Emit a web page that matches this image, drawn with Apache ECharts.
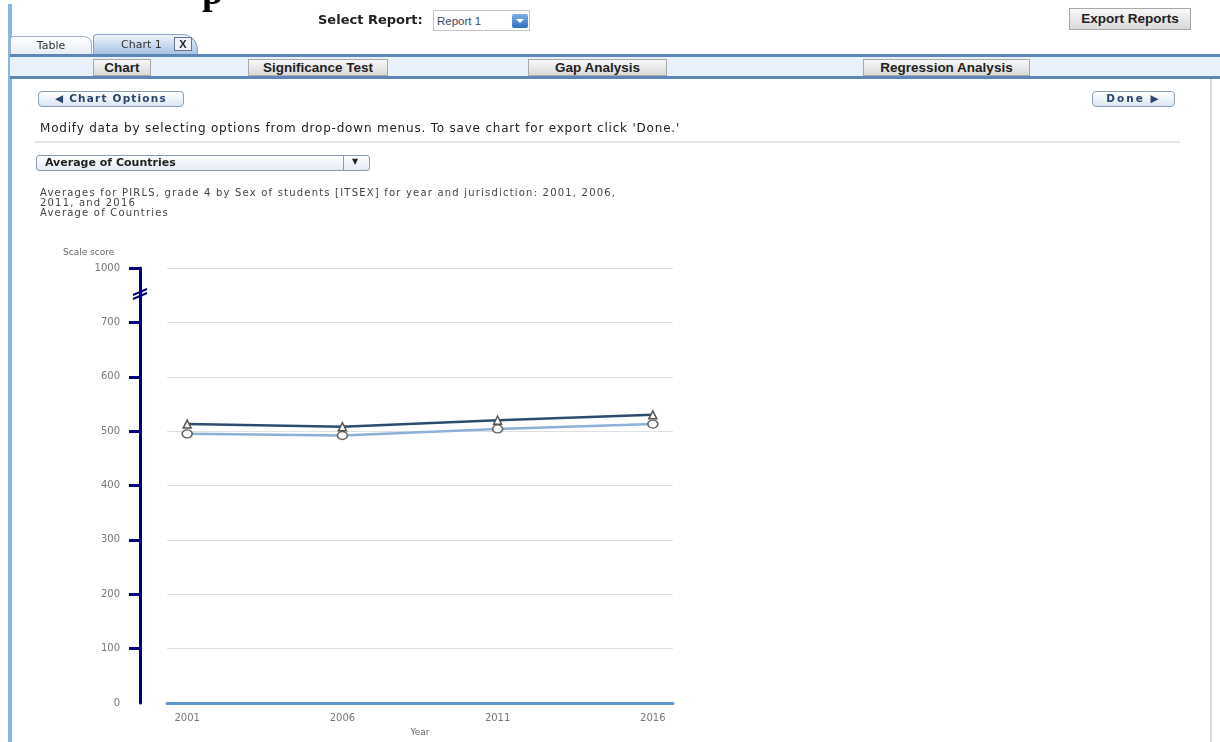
<!DOCTYPE html>
<html>
<head>
<meta charset="utf-8">
<script src="https://cdn.jsdelivr.net/npm/echarts@6/dist/echarts.min.js"></script>
<style>
  html, body { margin:0; padding:0; }
  body { width:1220px; height:742px; overflow:hidden; background:#fff; position:relative;
         font-family:"DejaVu Sans", Verdana, sans-serif; color:#222; }
  .abs { position:absolute; box-sizing:border-box; }
  #chart { position:absolute; left:0; top:0; width:1220px; height:742px; }
  .btn { background:linear-gradient(#f8f8f8,#d9d9d9); border:1px solid #a8a8a8;
         font:bold 13.5px "Liberation Sans", Arial, sans-serif; text-align:center; color:#222; white-space:nowrap; }
  .rbtn { border:1px solid #8a9fb8; border-radius:4px; background:linear-gradient(#ffffff,#dbe6f2);
          font:bold 10.5px "DejaVu Sans", Verdana, sans-serif; letter-spacing:1.2px; color:#2b4670; text-align:center; line-height:13px; white-space:nowrap; }
</style>
</head>
<body>
<div id="chart"></div>

<div class="abs" style="left:8px;top:4px;width:4px;height:738px;background:#86b6e6;"></div>
<div class="abs" style="left:202px;top:-28px;font:bold 38px 'Liberation Serif','Times New Roman',serif;line-height:38px;color:#000;">p</div>

<div class="abs" style="left:318px;top:12px;font:bold 13px 'DejaVu Sans',Verdana,sans-serif;white-space:nowrap;">Select Report:</div>
<div class="abs" style="left:433px;top:10px;width:97px;height:21px;border:1px solid #c4c4c4;background:#fff;"></div>
<div class="abs" style="left:437px;top:15px;font:11.5px 'Liberation Sans',Arial,sans-serif;color:#3a4a66;">Report 1</div>
<div class="abs" style="left:512px;top:14px;width:16px;height:14px;background:linear-gradient(#7fb0e6,#2f6fc0);border-radius:2px;"></div>
<div class="abs" style="left:516px;top:19px;width:0;height:0;border-left:4px solid transparent;border-right:4px solid transparent;border-top:4px solid #fff;"></div>

<div class="abs btn" style="left:1069px;top:8px;width:122px;height:22px;line-height:20px;">Export Reports</div>

<div class="abs" style="left:10px;top:36px;width:82px;height:18px;border:1px solid #a6b6c6;border-bottom:none;border-radius:4px 8px 0 0;background:linear-gradient(#ffffff,#e6edf5);font-size:11px;line-height:17px;text-align:center;color:#333;">Table</div>
<div class="abs" style="left:93px;top:34px;width:105px;height:20px;border:1px solid #8aa4c4;border-bottom:none;border-radius:4px 16px 0 0;background:linear-gradient(#eef4fa,#a6c2e4);"></div>
<div class="abs" style="left:121px;top:38px;font-size:11px;color:#333;white-space:nowrap;">Chart 1</div>
<div class="abs" style="left:174px;top:37px;width:18px;height:14px;border:1px solid #6a7488;background:#eef2f8;font:bold 11px 'Liberation Sans',Arial,sans-serif;line-height:12px;text-align:center;color:#223;">X</div>

<div class="abs" style="left:10px;top:54px;width:1210px;height:3px;background:#5d87b6;"></div>
<div class="abs" style="left:10px;top:57px;width:1210px;height:19px;background:#e8f1fb;"></div>
<div class="abs" style="left:10px;top:76px;width:1210px;height:3px;background:#5d87b6;"></div>

<div class="abs btn" style="left:93px;top:59px;width:58px;height:17px;line-height:15px;">Chart</div>
<div class="abs btn" style="left:248px;top:59px;width:140px;height:17px;line-height:15px;">Significance Test</div>
<div class="abs btn" style="left:528px;top:59px;width:139px;height:17px;line-height:15px;">Gap Analysis</div>
<div class="abs btn" style="left:863px;top:59px;width:167px;height:17px;line-height:15px;">Regression Analysis</div>

<div class="abs" style="left:1210px;top:79px;width:2px;height:663px;background:#cddcd8;"></div>

<div class="abs rbtn" style="left:38px;top:91px;width:146px;height:16px;">&#9664; Chart Options</div>
<div class="abs rbtn" style="left:1092px;top:91px;width:83px;height:16px;letter-spacing:2px;">Done &#9654;</div>

<div class="abs" style="left:40px;top:121px;font-size:12px;letter-spacing:0.8px;white-space:nowrap;color:#222;">Modify data by selecting options from drop-down menus. To save chart for export click 'Done.'</div>
<div class="abs" style="left:35px;top:141px;width:1145px;height:2px;background:#e6e6e6;"></div>

<div class="abs" style="left:36px;top:155px;width:334px;height:16px;border:1px solid #8a9cb0;border-radius:3px;background:linear-gradient(#ffffff,#e2ebf5);"></div>
<div class="abs" style="left:45px;top:156px;font:bold 11px 'DejaVu Sans',Verdana,sans-serif;color:#222;white-space:nowrap;">Average of Countries</div>
<div class="abs" style="left:343px;top:156px;width:1px;height:14px;background:#8a9cb0;"></div>
<div class="abs" style="left:352px;top:157px;font-size:8px;color:#222;">&#9660;</div>

<div class="abs" style="left:40px;top:188px;font-size:10px;line-height:10px;letter-spacing:1.2px;color:#444;white-space:nowrap;">Averages for PIRLS, grade 4 by Sex of students [ITSEX] for year and jurisdiction: 2001, 2006,<br>2011, and 2016<br>Average of Countries</div>

<script>
// ---- data ----
const years = [2001, 2006, 2011, 2016];
const femaleScores = [513, 508, 520, 530];   // triangles (upper line)
const maleScores = [495, 492, 504, 513];     // circles (lower line)
// y-axis: scale broken between 700 and 1000; the top tick position shows "1000"
const yTickPositions = [0, 100, 200, 300, 400, 500, 600, 700, 800];
const yTickLabels = ['0', '100', '200', '300', '400', '500', '600', '700', '1000'];
const xTickLabels = ['2001', '2006', '2011', '2016'];

const chart = echarts.init(document.getElementById('chart'), null, { renderer: 'canvas' });

const option = {
  animation: false,
  grid: { left: 167, right: 547, top: 268, bottom: 37 },
  xAxis: {
    type: 'value',
    min: 2000.35,
    max: 2016.65,
    name: 'Year',
    nameLocation: 'middle',
    nameGap: 25,
    nameTextStyle: { color: '#666', fontSize: 9, fontFamily: 'DejaVu Sans' },
    axisLine: { show: true, onZero: false, lineStyle: { color: '#5f96cd', width: 3 } },
    axisTick: { show: false },
    splitLine: { show: false },
    axisLabel: {
      customValues: years,
      formatter: v => xTickLabels[years.indexOf(Math.round(v))] || '',
      color: '#777', fontSize: 10, fontFamily: 'DejaVu Sans', margin: 10
    }
  },
  yAxis: {
    type: 'value',
    min: 0,
    max: 800,
    interval: 100,
    offset: 27,
    axisLine: { show: true, onZero: false, lineStyle: { color: '#00007a', width: 3 } },
    axisTick: { show: true, length: 11, customValues: yTickPositions.slice(1),
                lineStyle: { color: '#00007a', width: 3 } },
    axisLabel: {
      formatter: v => yTickLabels[yTickPositions.indexOf(Math.round(v))] || '',
      color: '#777', fontSize: 10, fontFamily: 'DejaVu Sans', margin: 20
    },
    splitLine: { show: true, lineStyle: { color: '#e0e0e0', width: 1 } }
  },
  series: [
    {
      name: 'Female',
      type: 'line',
      data: years.map((y, i) => [y, femaleScores[i]]),
      symbol: 'triangle',
      symbolSize: 8,
      showAllSymbol: true,
      lineStyle: { color: '#2c4c6f', width: 2.5 },
      itemStyle: { color: '#ffffff', borderColor: '#555', borderWidth: 1.5 },
      z: 3
    },
    {
      name: 'Male',
      type: 'line',
      data: years.map((y, i) => [y, maleScores[i]]),
      symbol: 'circle',
      symbolSize: [10, 8],
      showAllSymbol: true,
      lineStyle: { color: '#8db2da', width: 2.5 },
      itemStyle: { color: '#ffffff', borderColor: '#666', borderWidth: 1.5 },
      z: 2
    }
  ],
  graphic: [
    { type: 'text', left: 63, top: 248,
      style: { text: 'Scale score', fill: '#666', fontSize: 9, fontFamily: 'DejaVu Sans' } },
    { type: 'line', shape: { x1: 133, y1: 299, x2: 147, y2: 293 },
      style: { stroke: '#00007a', lineWidth: 2 } },
    { type: 'line', shape: { x1: 133, y1: 295, x2: 147, y2: 289 },
      style: { stroke: '#00007a', lineWidth: 2 } }
  ]
};
chart.setOption(option);
</script>
</body>
</html>
